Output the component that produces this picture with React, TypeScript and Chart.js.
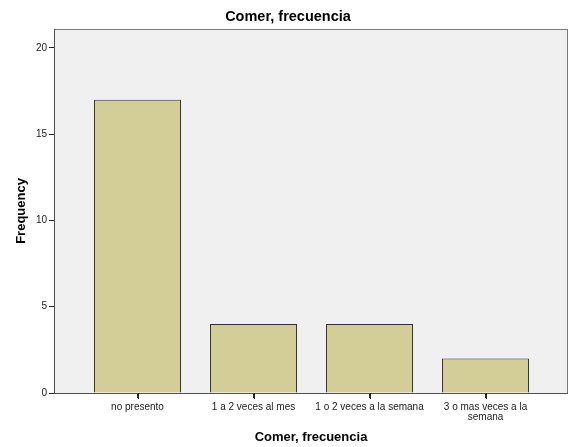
import React, { useEffect, useRef } from "react";
import { Chart, registerables } from "chart.js";

Chart.register(...registerables);

const categories: (string | string[])[] = [
  "no presento",
  "1 a 2 veces al mes",
  "1 o 2 veces a la semana",
  ["3 o mas veces a la", "semana"],
];
const frequencies: number[] = [17, 4, 4, 2];
const yTickValues: number[] = [0, 5, 10, 15, 20];
const titleText = "Comer, frecuencia";
const xTitleText = "Comer, frecuencia";
const yTitleText = "Frequency";

const FONT = "'Liberation Sans', Arial, Helvetica, sans-serif";

const plotFrame = {
  id: "plotFrame",
  beforeDraw(chart: any) {
    const { ctx, chartArea: a } = chart;
    ctx.save();
    ctx.fillStyle = "#f0f0f0";
    ctx.fillRect(a.left, a.top, a.right - a.left, a.bottom - a.top);
    ctx.restore();
  },
  afterDraw(chart: any) {
    const { ctx, chartArea: a } = chart;
    const xs = chart.scales.x;
    ctx.save();
    ctx.strokeStyle = "#7a7a7a";
    ctx.lineWidth = 1;
    ctx.strokeRect(Math.round(a.left) + 0.5, Math.round(a.top) + 0.5, Math.round(a.right - a.left) - 1, Math.round(a.bottom - a.top));
    ctx.strokeStyle = "#505050";
    ctx.beginPath();
    ctx.moveTo(Math.round(a.left) + 0.5, a.top);
    ctx.lineTo(Math.round(a.left) + 0.5, a.bottom + 0.5);
    ctx.lineTo(a.right, Math.round(a.bottom) + 0.5);
    ctx.stroke();
    // x tick marks at category positions
    ctx.strokeStyle = "#222";
    ctx.beginPath();
    categories.forEach((_, i) => {
      const px = Math.round(xs.getPixelForValue(i)) + 0.5;
      ctx.moveTo(px, Math.round(a.bottom));
      ctx.lineTo(px, Math.round(a.bottom) + 6);
    });
    ctx.stroke();
    ctx.restore();
  },
};

export default function App() {
  const ref = useRef<HTMLCanvasElement | null>(null);
  useEffect(() => {
    document.body.style.margin = "0";
    const canvas = ref.current!;
    const chart = new Chart(canvas, {
      type: "bar",
      data: {
        datasets: [
          {
            data: frequencies.map((v, i) => ({ x: i, y: v })),
            backgroundColor: "#d3ce97",
            borderColor: "#333333",
            borderWidth: 1,
            barPercentage: 0.75,
            categoryPercentage: 1,
          },
        ],
      },
      options: {
        animation: false,
        responsive: false,
        devicePixelRatio: 1,
        layout: { padding: { left: 8, top: 0, bottom: 0, right: 5 } },
        plugins: {
          legend: { display: false },
          tooltip: { enabled: false },
          title: {
            display: true,
            text: titleText,
            color: "#000",
            font: { family: FONT, size: 14.5, weight: "bold", lineHeight: 1.2 },
            padding: { top: 8.5, bottom: 3 },
          },
        },
        scales: {
          x: {
            type: "linear",
            offset: false,
            min: -0.72,
            max: 3.711,
            afterBuildTicks: (scale: any) => {
              scale.ticks = categories.map((_, i) => ({ value: i }));
            },
            afterFit: (scale: any) => {
              scale.height = 54;
            },
            grid: {
              offset: false,
              drawOnChartArea: false,
              drawTicks: true,
              tickLength: 5,
              lineWidth: 1,
              color: "#222",
            },
            border: { display: false },
            ticks: {
              color: "#222",
              font: { family: FONT, size: 10, lineHeight: 1.0 },
              padding: 4,
              maxRotation: 0,
              autoSkip: false,
              callback: (v: any) => categories[Math.round(Number(v))] as any,
            },
            title: {
              display: true,
              text: xTitleText,
              color: "#000",
              font: { family: FONT, size: 13, weight: "bold", lineHeight: 1.2 },
              padding: { top: 0, bottom: 2 },
            },
          },
          y: {
            type: "linear",
            min: 0,
            max: 21.1,
            afterBuildTicks: (scale: any) => {
              scale.ticks = yTickValues.map((v) => ({ value: v }));
            },
            afterFit: (scale: any) => {
              scale.width = 46;
            },
            grid: {
              drawOnChartArea: false,
              drawTicks: true,
              tickLength: 5,
              color: "#222",
            },
            border: { display: false },
            ticks: {
              color: "#222",
              font: { family: FONT, size: 10 },
              padding: 2,
            },
            title: {
              display: true,
              text: yTitleText,
              color: "#000",
              font: { family: FONT, size: 13, weight: "bold", lineHeight: 1.2 },
              padding: { top: 6, bottom: 0 },
            },
          },
        },
      },
      plugins: [plotFrame],
    });
    return () => chart.destroy();
  }, []);
  return (
    <div style={{ position: "absolute", left: 0, top: 0, width: 573, height: 447, background: "#fff" }}>
      <canvas ref={ref} width={573} height={447} style={{ display: "block" }} />
    </div>
  );
}
